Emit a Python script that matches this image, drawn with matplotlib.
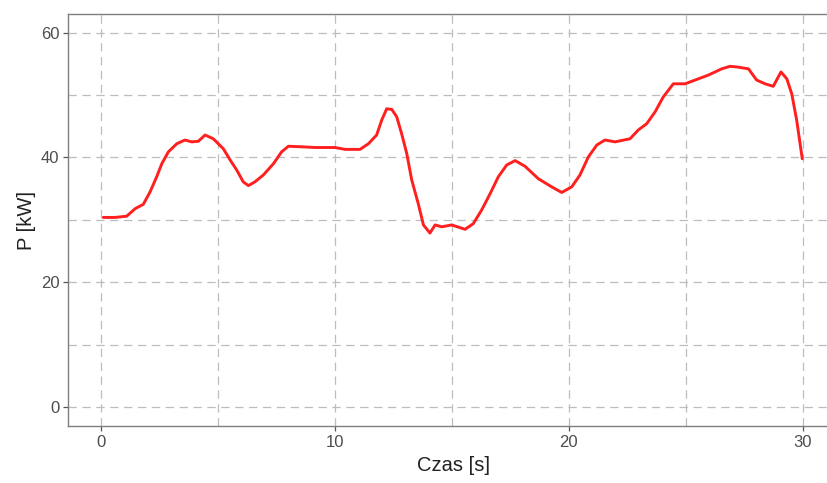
import matplotlib
matplotlib.use('Agg')
import matplotlib.pyplot as plt
from matplotlib.ticker import MultipleLocator

# ============================================================
#  DATA
# ============================================================
czas = [0.11, 0.61, 1.11, 1.47, 1.82, 2.11, 2.39, 2.61, 2.89, 3.25,
        3.60, 3.89, 4.17, 4.46, 4.81, 5.24, 5.53, 5.81, 6.09, 6.31,
        6.59, 6.95, 7.38, 7.73, 8.02, 8.66, 9.16, 10.01, 10.44, 11.08,
        11.44, 11.79, 12.01, 12.22, 12.44, 12.65, 12.86, 13.08, 13.29, 13.57,
        13.79, 14.07, 14.29, 14.57, 15.00, 15.57, 15.92, 16.28, 16.64, 16.99,
        17.35, 17.71, 18.13, 18.70, 19.27, 19.70, 20.13, 20.48, 20.84, 21.20,
        21.55, 21.98, 22.62, 22.97, 23.33, 23.69, 24.04, 24.47, 24.97, 25.40,
        25.97, 26.54, 26.89, 27.18, 27.68, 28.03, 28.39, 28.74, 29.07, 29.32,
        29.53, 29.74, 29.98]
moc = [30.4, 30.4, 30.6, 31.8, 32.5, 34.5, 36.9, 39.0, 40.9, 42.2,
       42.8, 42.5, 42.6, 43.6, 43.0, 41.4, 39.6, 38.0, 36.1, 35.5,
       36.1, 37.2, 39.0, 40.9, 41.8, 41.7, 41.6, 41.6, 41.3, 41.3,
       42.2, 43.6, 46.0, 47.8, 47.7, 46.5, 43.8, 40.6, 36.4, 32.6,
       29.2, 27.9, 29.2, 28.9, 29.2, 28.5, 29.4, 31.6, 34.2, 36.9,
       38.8, 39.5, 38.6, 36.6, 35.3, 34.4, 35.3, 37.2, 40.1, 42.0,
       42.8, 42.5, 43.0, 44.4, 45.4, 47.3, 49.7, 51.8, 51.8, 52.4,
       53.2, 54.2, 54.6, 54.5, 54.2, 52.4, 51.8, 51.4, 53.7, 52.6,
       50.2, 46.0, 39.8]

x_ticks = [0, 10, 20, 30]
y_ticks = [0, 20, 40, 60]

# ============================================================
#  STYL
# ============================================================
plt.rcParams['font.family'] = ['Liberation Sans', 'DejaVu Sans']
plt.rcParams['lines.scale_dashes'] = False

SZARY_SIATKA = '#bdbdbd'
SZARY_OPIS = '#4d4d4d'

fig = plt.figure(figsize=(8.27, 4.83), dpi=100)
ax = fig.add_axes([0.0826, 0.118, 0.9305, 0.852])

ax.plot(czas, moc, color='#ff1f1f', linewidth=2.1,
        solid_joinstyle='round', solid_capstyle='round', zorder=3)

ax.set_xlim(-1.385, 31.5)
ax.set_ylim(-3.0, 62.9)

ax.set_xticks(x_ticks)
ax.set_yticks(y_ticks)
ax.xaxis.set_minor_locator(MultipleLocator(5))
ax.yaxis.set_minor_locator(MultipleLocator(10))

for which in ('major', 'minor'):
    ax.grid(True, which=which, color=SZARY_SIATKA, linestyle=(0, (6, 4)), linewidth=0.9)
ax.set_axisbelow(True)

ax.tick_params(which='major', length=3.5, width=0.9, color='#555555',
               labelsize=12, labelcolor=SZARY_OPIS, pad=3)
ax.tick_params(which='minor', length=0)

for spine in ax.spines.values():
    spine.set_color('#7f7f7f')
    spine.set_linewidth(1.0)

ax.set_xlabel('Czas [s]', fontsize=14.5, color='#222222', labelpad=4)
ax.set_ylabel('P [kW]', fontsize=14.5, color='#222222', labelpad=3)

fig.savefig('out.png', dpi=100)
